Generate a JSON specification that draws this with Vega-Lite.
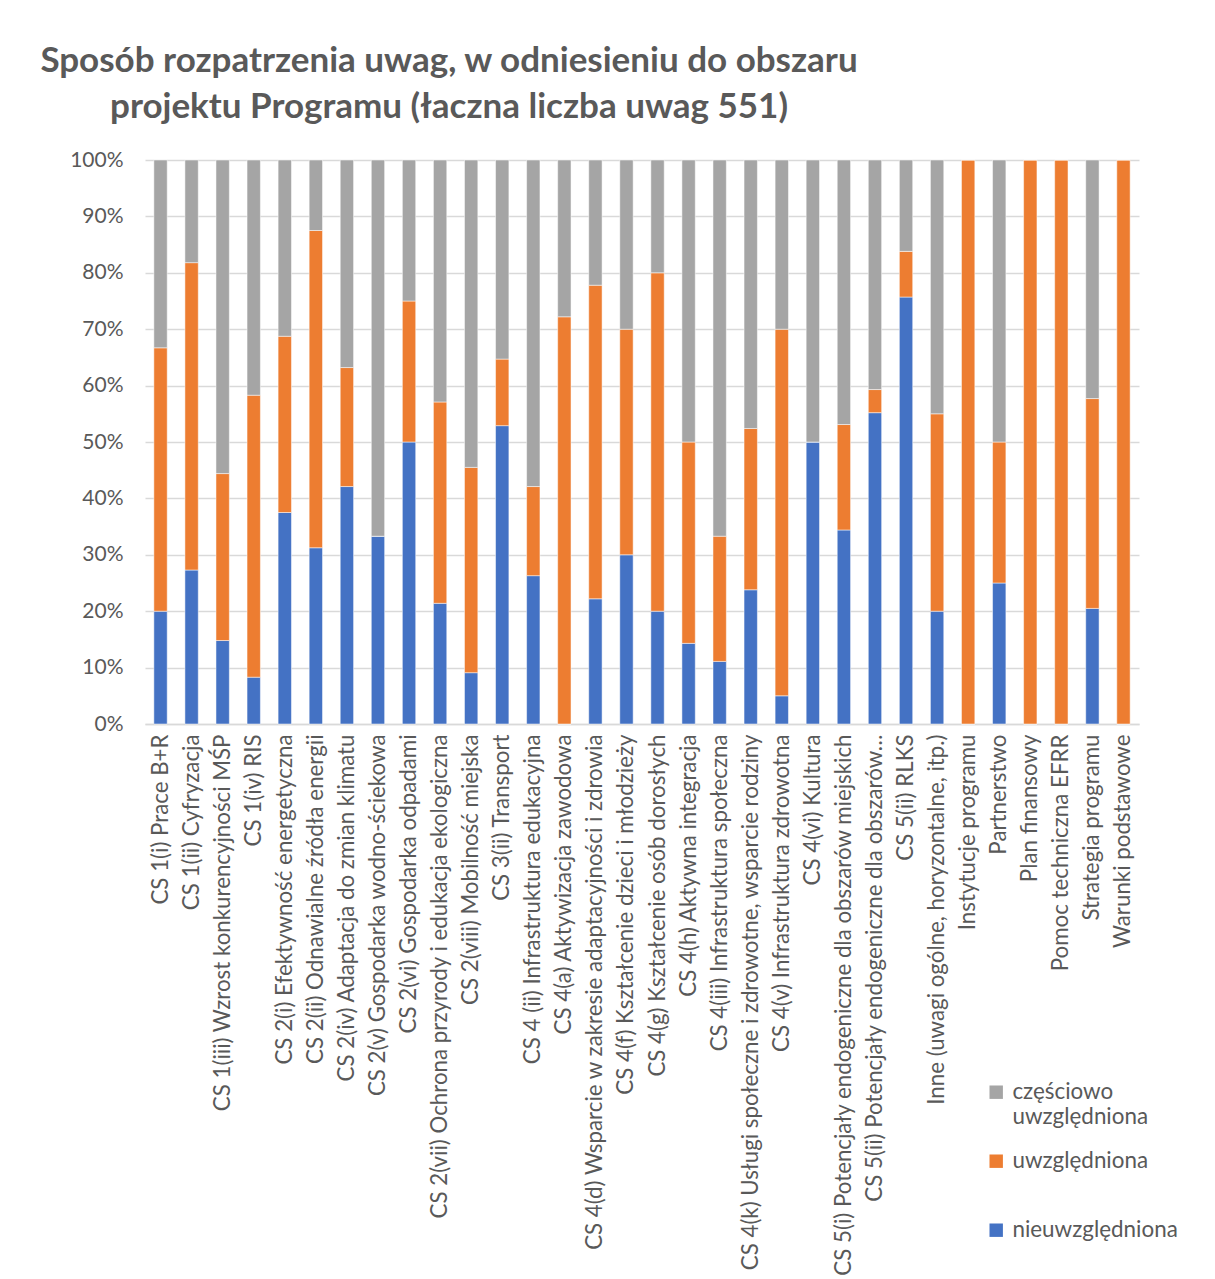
{
  "$schema": "https://vega.github.io/schema/vega-lite/v6.json",
  "autosize": "none",
  "width": 994,
  "height": 564,
  "padding": {"left": 145, "top": 160, "right": 76, "bottom": 555},
  "background": "white",
  "title": {
    "text": ["Sposób rozpatrzenia uwag, w odniesieniu do obszaru", "projektu Programu (łaczna liczba uwag 551)"],
    "frame": "group",
    "anchor": "start",
    "align": "center",
    "dx": 304,
    "offset": 24,
    "font": "Lato",
    "fontSize": 35,
    "fontWeight": "bold",
    "color": "#595959",
    "lineHeight": 46
  },
  "data": {
    "values": [
      {"obszar": "CS 1(i) Prace B+R", "nieuwzględniona": 20, "uwzględniona": 46.7, "częściowo uwzględniona": 33.3},
      {"obszar": "CS 1(ii) Cyfryzacja", "nieuwzględniona": 27.3, "uwzględniona": 54.5, "częściowo uwzględniona": 18.2},
      {"obszar": "CS 1(iii) Wzrost konkurencyjności MŚP", "nieuwzględniona": 14.8, "uwzględniona": 29.6, "częściowo uwzględniona": 55.6},
      {"obszar": "CS 1(iv) RIS", "nieuwzględniona": 8.3, "uwzględniona": 50, "częściowo uwzględniona": 41.7},
      {"obszar": "CS 2(i) Efektywność energetyczna", "nieuwzględniona": 37.5, "uwzględniona": 31.25, "częściowo uwzględniona": 31.25},
      {"obszar": "CS 2(ii) Odnawialne źródła energii", "nieuwzględniona": 31.25, "uwzględniona": 56.25, "częściowo uwzględniona": 12.5},
      {"obszar": "CS 2(iv) Adaptacja do zmian klimatu", "nieuwzględniona": 42.1, "uwzględniona": 21.1, "częściowo uwzględniona": 36.8},
      {"obszar": "CS 2(v) Gospodarka wodno-ściekowa", "nieuwzględniona": 33.3, "uwzględniona": 0, "częściowo uwzględniona": 66.7},
      {"obszar": "CS 2(vi) Gospodarka odpadami", "nieuwzględniona": 50, "uwzględniona": 25, "częściowo uwzględniona": 25},
      {"obszar": "CS 2(vii) Ochrona przyrody i edukacja ekologiczna", "nieuwzględniona": 21.4, "uwzględniona": 35.7, "częściowo uwzględniona": 42.9},
      {"obszar": "CS 2(viii) Mobilność miejska", "nieuwzględniona": 9.1, "uwzględniona": 36.4, "częściowo uwzględniona": 54.5},
      {"obszar": "CS 3(ii) Transport", "nieuwzględniona": 52.9, "uwzględniona": 11.8, "częściowo uwzględniona": 35.3},
      {"obszar": "CS 4 (ii) Infrastruktura edukacyjna", "nieuwzględniona": 26.3, "uwzględniona": 15.8, "częściowo uwzględniona": 57.9},
      {"obszar": "CS 4(a) Aktywizacja zawodowa", "nieuwzględniona": 0, "uwzględniona": 72.2, "częściowo uwzględniona": 27.8},
      {"obszar": "CS 4(d) Wsparcie w zakresie adaptacyjności i zdrowia", "nieuwzględniona": 22.2, "uwzględniona": 55.6, "częściowo uwzględniona": 22.2},
      {"obszar": "CS 4(f) Kształcenie dzieci i młodzieży", "nieuwzględniona": 30, "uwzględniona": 40, "częściowo uwzględniona": 30},
      {"obszar": "CS 4(g) Kształcenie osób dorosłych", "nieuwzględniona": 20, "uwzględniona": 60, "częściowo uwzględniona": 20},
      {"obszar": "CS 4(h) Aktywna integracja", "nieuwzględniona": 14.3, "uwzględniona": 35.7, "częściowo uwzględniona": 50},
      {"obszar": "CS 4(iii) Infrastruktura społeczna", "nieuwzględniona": 11.1, "uwzględniona": 22.2, "częściowo uwzględniona": 66.7},
      {"obszar": "CS 4(k) Usługi społeczne i zdrowotne, wsparcie rodziny", "nieuwzględniona": 23.8, "uwzględniona": 28.6, "częściowo uwzględniona": 47.6},
      {"obszar": "CS 4(v) Infrastruktura zdrowotna", "nieuwzględniona": 5, "uwzględniona": 65, "częściowo uwzględniona": 30},
      {"obszar": "CS 4(vi) Kultura", "nieuwzględniona": 50, "uwzględniona": 0, "częściowo uwzględniona": 50},
      {"obszar": "CS 5(i) Potencjały endogeniczne dla obszarów miejskich", "nieuwzględniona": 34.4, "uwzględniona": 18.7, "częściowo uwzględniona": 46.9},
      {"obszar": "CS 5(ii) Potencjały endogeniczne dla obszarów…", "nieuwzględniona": 55.2, "uwzględniona": 4.1, "częściowo uwzględniona": 40.7},
      {"obszar": "CS 5(ii) RLKS", "nieuwzględniona": 75.7, "uwzględniona": 8.1, "częściowo uwzględniona": 16.2},
      {"obszar": "Inne (uwagi ogólne, horyzontalne, itp.)", "nieuwzględniona": 20, "uwzględniona": 35, "częściowo uwzględniona": 45},
      {"obszar": "Instytucje programu", "nieuwzględniona": 0, "uwzględniona": 100, "częściowo uwzględniona": 0},
      {"obszar": "Partnerstwo", "nieuwzględniona": 25, "uwzględniona": 25, "częściowo uwzględniona": 50},
      {"obszar": "Plan finansowy", "nieuwzględniona": 0, "uwzględniona": 100, "częściowo uwzględniona": 0},
      {"obszar": "Pomoc techniczna EFRR", "nieuwzględniona": 0, "uwzględniona": 100, "częściowo uwzględniona": 0},
      {"obszar": "Strategia programu", "nieuwzględniona": 20.5, "uwzględniona": 37.2, "częściowo uwzględniona": 42.3},
      {"obszar": "Warunki podstawowe", "nieuwzględniona": 0, "uwzględniona": 100, "częściowo uwzględniona": 0}
    ]
  },
  "transform": [
    {"fold": ["nieuwzględniona", "uwzględniona", "częściowo uwzględniona"], "as": ["status", "procent"]},
    {"calculate": "indexof(['nieuwzględniona','uwzględniona','częściowo uwzględniona'], datum.status)", "as": "kolejnosc"}
  ],
  "mark": {"type": "bar", "stroke": "white", "strokeWidth": 0.5},
  "encoding": {
    "x": {
      "field": "obszar",
      "type": "nominal",
      "sort": null,
      "scale": {"paddingInner": 0.57, "paddingOuter": 0.285},
      "axis": {
        "title": null,
        "labelAngle": -90,
        "labelFont": "Lato",
        "labelFontSize": 22.3,
        "labelColor": "#595959",
        "labelPadding": 10,
        "labelLimit": 700,
        "ticks": false,
        "domainColor": "#d9d9d9",
        "domainWidth": 1.5
      }
    },
    "y": {
      "field": "procent",
      "type": "quantitative",
      "stack": "zero",
      "scale": {"domain": [0, 100], "nice": false},
      "axis": {
        "title": null,
        "values": [0, 10, 20, 30, 40, 50, 60, 70, 80, 90, 100],
        "labelExpr": "datum.value + '%'",
        "labelFont": "Lato",
        "labelFontSize": 21,
        "labelColor": "#595959",
        "labelPadding": 22,
        "ticks": false,
        "domain": false,
        "gridColor": "#d9d9d9",
        "gridWidth": 1.5
      }
    },
    "color": {
      "field": "status",
      "type": "nominal",
      "scale": {
        "domain": ["częściowo uwzględniona", "uwzględniona", "nieuwzględniona"],
        "range": ["#A5A5A5", "#ED7D31", "#4472C4"]
      },
      "legend": {
        "title": null,
        "orient": "none",
        "legendX": 840,
        "legendY": 921,
        "symbolType": "square",
        "symbolSize": 180,
        "symbolStrokeWidth": 0,
        "labelFont": "Lato",
        "labelFontSize": 22.4,
        "labelColor": "#595959",
        "labelLimit": 300,
        "labelOffset": 5,
        "rowPadding": 22,
        "labelExpr": "datum.label == 'częściowo uwzględniona' ? ['częściowo', 'uwzględniona'] : (datum.label == 'uwzględniona' ? ['uwzględniona', ' '] : datum.label)"
      }
    },
    "order": {"field": "kolejnosc", "type": "quantitative"}
  },
  "config": {
    "view": {"stroke": null}
  }
}
